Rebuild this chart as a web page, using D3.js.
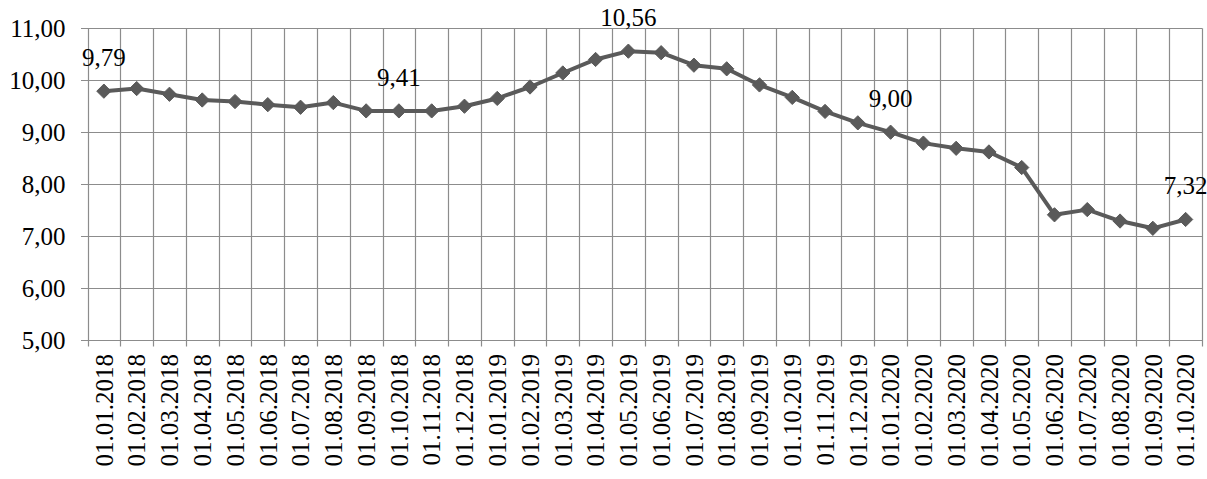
<!DOCTYPE html>
<html>
<head>
<meta charset="utf-8">
<script src="https://cdn.jsdelivr.net/npm/d3@7/dist/d3.min.js"></script>
<style>
  html, body { margin: 0; padding: 0; background: #fff; }
  svg { display: block; }
</style>
</head>
<body>
<svg id="chart" width="1207" height="479"></svg>
<script>
const categories = [
  "01.01.2018","01.02.2018","01.03.2018","01.04.2018","01.05.2018","01.06.2018",
  "01.07.2018","01.08.2018","01.09.2018","01.10.2018","01.11.2018","01.12.2018",
  "01.01.2019","01.02.2019","01.03.2019","01.04.2019","01.05.2019","01.06.2019",
  "01.07.2019","01.08.2019","01.09.2019","01.10.2019","01.11.2019","01.12.2019",
  "01.01.2020","01.02.2020","01.03.2020","01.04.2020","01.05.2020","01.06.2020",
  "01.07.2020","01.08.2020","01.09.2020","01.10.2020"
];
const values = [
  9.79, 9.84, 9.73, 9.62, 9.59, 9.53,
  9.48, 9.57, 9.41, 9.41, 9.41, 9.50,
  9.65, 9.87, 10.14, 10.40, 10.56, 10.53,
  10.29, 10.22, 9.91, 9.67, 9.40, 9.18,
  9.00, 8.79, 8.69, 8.62, 8.32, 7.41,
  7.51, 7.29, 7.15, 7.32
];
const yTicks = [5, 6, 7, 8, 9, 10, 11];
const labeledCategories = ["01.01.2018", "01.10.2018", "01.05.2019", "01.01.2020", "01.10.2020"];

const fmt = v => d3.format(".2f")(v).replace(".", ",");
const FONT = "'Liberation Serif', 'Times New Roman', serif";

const svg = d3.select("#chart");
const mLeft = 87.5, mRight = 1202, mTop = 28.3, mBottom = 340;

const x = d3.scaleBand().domain(categories).range([mLeft, mRight]).padding(0);
const y = d3.scaleLinear().domain([5, 11]).range([mBottom, mTop]);

const gridColor = "#8c8c8c";

// horizontal gridlines (extend left as tick marks)
svg.append("g").selectAll("line").data(yTicks).join("line")
  .attr("x1", mLeft - 6.5).attr("x2", mRight)
  .attr("y1", d => Math.round(y(d)) + 0.5).attr("y2", d => Math.round(y(d)) + 0.5)
  .attr("stroke", gridColor).attr("stroke-width", 1.2);

// vertical gridlines at category boundaries (extend below as tick marks)
const bounds = categories.map(c => x(c)).concat([x(categories[categories.length - 1]) + x.bandwidth()]);
svg.append("g").selectAll("line").data(bounds).join("line")
  .attr("x1", d => Math.round(d) + 0.5).attr("x2", d => Math.round(d) + 0.5)
  .attr("y1", mTop).attr("y2", mBottom + 6.5)
  .attr("stroke", gridColor).attr("stroke-width", 1.2);

// y axis labels
const yAxis = svg.append("g").attr("transform", `translate(${mLeft},0)`)
  .call(d3.axisLeft(y).tickValues(yTicks).tickSize(0).tickPadding(22).tickFormat(fmt));
yAxis.attr("font-family", null);
yAxis.select(".domain").remove();
yAxis.selectAll("text").style("font-family", FONT).attr("font-size", 25).attr("fill", "#000");

// x axis labels
const xAxis = svg.append("g").attr("transform", `translate(0,${mBottom})`)
  .call(d3.axisBottom(x).tickSize(0).tickPadding(0));
xAxis.attr("font-family", null);
xAxis.select(".domain").remove();
xAxis.selectAll("text")
  .style("font-family", FONT).attr("font-size", 25).attr("fill", "#000")
  .attr("transform", "rotate(-90)")
  .attr("text-anchor", "end")
  .attr("x", -14).attr("y", 0).attr("dy", "0.35em");

// line
const cx = c => x(c) + x.bandwidth() / 2;
const data = categories.map((c, i) => ({ c, v: values[i] }));
const lineColor = "#5a5a5a";
svg.append("path").datum(data)
  .attr("fill", "none").attr("stroke", lineColor).attr("stroke-width", 4)
  .attr("stroke-linejoin", "round")
  .attr("d", d3.line().x(d => cx(d.c)).y(d => y(d.v)));

// diamond markers
svg.append("g").selectAll("path").data(data).join("path")
  .attr("transform", d => `translate(${cx(d.c)},${y(d.v)})`)
  .attr("d", d3.symbol().type(d3.symbolDiamond2).size(130))
  .attr("fill", lineColor).attr("stroke", lineColor).attr("stroke-width", 1);

// data labels
svg.append("g").selectAll("text").data(data.filter(d => labeledCategories.includes(d.c))).join("text")
  .attr("x", d => cx(d.c)).attr("y", d => y(d.v) - 25)
  .attr("text-anchor", "middle")
  .style("font-family", FONT).attr("font-size", 25).attr("fill", "#000")
  .text(d => fmt(d.v));
</script>
</body>
</html>
